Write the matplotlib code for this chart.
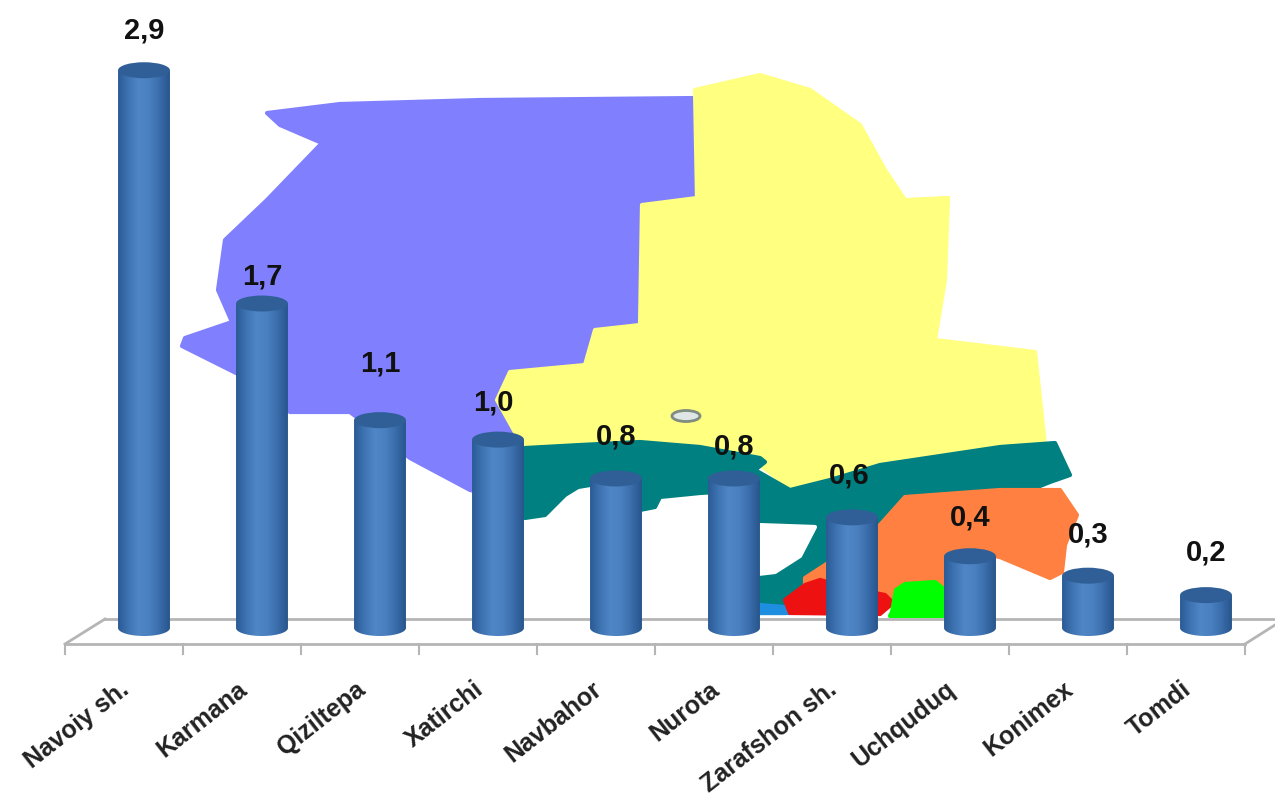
import matplotlib
matplotlib.use('Agg')
import matplotlib.pyplot as plt
import numpy as np
from matplotlib.colors import LinearSegmentedColormap
from matplotlib.patches import Ellipse, Polygon

plt.rcParams['font.family'] = ['Liberation Sans', 'DejaVu Sans']

districts = ['Navoiy sh.', 'Karmana', 'Qiziltepa', 'Xatirchi', 'Navbahor',
             'Nurota', 'Zarafshon sh.', 'Uchquduq', 'Konimex', 'Tomdi']
values = [2.9, 1.7, 1.1, 1.0, 0.8, 0.8, 0.6, 0.4, 0.3, 0.2]

# label offsets, the labels sit unevenly in the original
label_dx = [0, 0, 0, -5, 0, 0, -3, 0, 0, 0]
label_gap = [40, 27, 57, 37, 42, 32, 42, 39, 41, 43]

# map behind the chart, in picture pixels
purple = [(267, 113), (340, 104), (480, 100), (697, 98), (697, 198), (642, 205), (640, 325),
          (595, 330), (585, 365), (510, 372), (497, 400), (525, 450), (525, 500), (470, 490),
          (410, 458), (350, 412), (290, 412), (260, 385), (182, 346), (185, 338), (232, 322),
          (218, 290), (225, 240), (267, 200), (322, 143), (280, 125)]
yellow = [(695, 90), (760, 75), (810, 90), (860, 125), (885, 170), (905, 200), (948, 198),
          (945, 280), (935, 340), (1035, 352), (1045, 445), (1000, 470), (800, 495), (760, 465),
          (640, 450), (525, 450), (497, 400), (510, 372), (585, 365), (595, 330), (640, 325),
          (642, 205), (697, 198)]
teal = [(525, 448), (580, 445), (640, 442), (700, 447), (760, 458), (765, 462), (755, 470),
        (790, 490), (830, 480), (880, 465), (1000, 447), (1055, 443), (1070, 475), (1050, 482),
        (1030, 490), (905, 497), (880, 522), (830, 560), (805, 580), (790, 600), (785, 613),
        (750, 613), (750, 490), (700, 493), (660, 497), (655, 507), (640, 510), (640, 490),
        (590, 485), (578, 487), (565, 495), (545, 515), (525, 518)]
lake = [(758, 525), (815, 527), (800, 556), (775, 572), (758, 574)]
orange = [(805, 578), (825, 565), (880, 525), (905, 497), (1000, 490), (1060, 490), (1077, 515),
          (1065, 545), (1062, 572), (1050, 578), (1000, 557), (960, 550), (960, 600), (880, 600),
          (805, 592)]
red = [(785, 600), (805, 585), (820, 580), (850, 588), (885, 595), (893, 603), (880, 614), (790, 613)]
green = [(892, 612), (896, 590), (905, 584), (935, 582), (945, 590), (945, 616), (890, 616)]
blue = [(760, 605), (785, 607), (790, 613), (760, 613)]

fig = plt.figure(figsize=(12.75, 7.96), dpi=100)

bg = fig.add_axes([0, 0, 1, 1])
bg.set_xlim(0, 1275)
bg.set_ylim(796, 0)
bg.axis('off')

for shape, col in [(purple, '#8080ff'), (yellow, '#ffff80'), (teal, '#008080'), (lake, 'white'),
                   (orange, '#ff8040'), (blue, '#1e8fe0'), (red, '#ee1111'), (green, '#00ff00')]:
    bg.add_patch(Polygon(shape, closed=True, facecolor=col, edgecolor=col, linewidth=3, joinstyle='round'))
bg.add_patch(Ellipse((686, 416), 28, 11, facecolor='#dfe6e6', edgecolor='#808c80', linewidth=2))

# floor of the 3d chart
floor = '#b5b5b5'
bg.plot([65, 1245], [644, 644], color=floor, linewidth=2)
bg.plot([105, 1275], [619, 619], color=floor, linewidth=2)
bg.plot([65, 105], [644, 619], color=floor, linewidth=2)
bg.plot([1245, 1275], [644, 625], color=floor, linewidth=2)
for t in np.linspace(65, 1245, 11):
    bg.plot([t, t], [644, 654], color=floor, linewidth=1.5)

# value axes: x=0 at pixel 144, 118 px per district; y=0 at pixel 634, 194.4 px per unit
ax = fig.add_axes([85 / 1275, (796 - 789) / 796, 1180 / 1275, (789 - 12) / 796])
ax.patch.set_alpha(0)
ax.axis('off')

side = LinearSegmentedColormap.from_list('cyl', ['#2b5b96', '#3f74b3', '#4f86c6', '#4a80c0', '#3a6dab', '#28568e'])
grad = np.linspace(0, 1, 64).reshape(1, -1)

w = 0.22
top_h = 8 / 194.4
base = 6 / 194.4
for i, v in enumerate(values):
    arc = np.linspace(np.pi, 2 * np.pi, 40)
    outline = [(i - w, v), *zip(i + w * np.cos(arc), base + top_h * np.sin(arc)), (i + w, v)]
    clip = Polygon(outline, closed=True, transform=ax.transData, facecolor='none', edgecolor='none')
    ax.add_patch(clip)
    im = ax.imshow(grad, cmap=side, extent=(i - w, i + w, base - top_h, v), aspect='auto', zorder=2)
    im.set_clip_path(clip)
    ax.add_patch(Ellipse((i, v), 2 * w, 2 * top_h, facecolor='#2f5f96', edgecolor='none', zorder=3))
    ax.annotate(f'{v:.1f}'.replace('.', ','), (i, v), xytext=(label_dx[i] * 0.72, label_gap[i] * 0.72),
                textcoords='offset points', ha='center', va='center', fontsize=21, fontweight='bold',
                color='#111111', zorder=4)
    ax.annotate(districts[i], (i, 0), xytext=(-18, -31), textcoords='offset points', rotation=38,
                rotation_mode='anchor', ha='right', va='top', fontsize=18, fontweight='bold',
                color='#222222', annotation_clip=False)

ax.set_xlim(-0.5, 9.5)
ax.set_ylim(-155 / 194.4, 622 / 194.4)

fig.savefig('out.png', dpi=100)
